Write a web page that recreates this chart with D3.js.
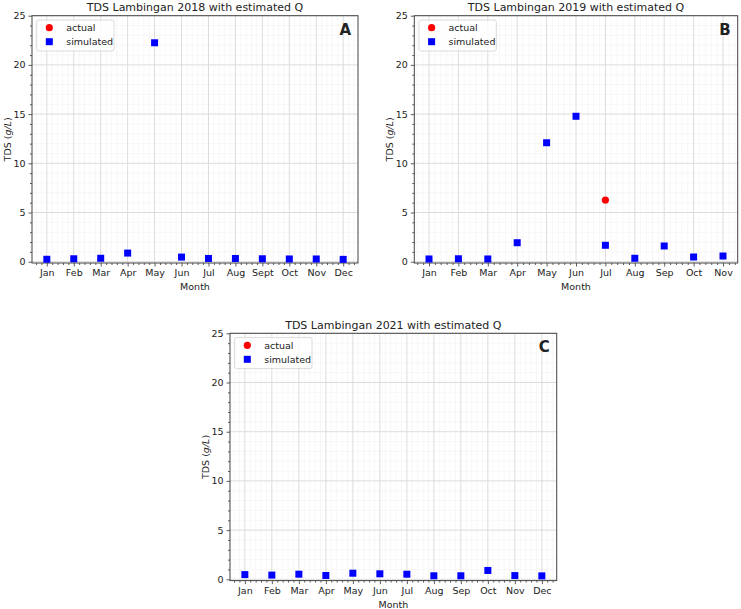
<!DOCTYPE html>
<html>
<head>
<meta charset="utf-8">
<script src="https://cdn.jsdelivr.net/npm/d3@7/dist/d3.min.js"></script>
<style>
  html, body { margin: 0; padding: 0; background: #fff; }
  svg { display: block; }
  text { font-family: "DejaVu Sans", sans-serif; fill: #222; }
</style>
</head>
<body>
<svg id="chart" width="741" height="609"></svg>
<script>
// ---- data ----
const months2018 = ["Jan","Feb","Mar","Apr","May","Jun","Jul","Aug","Sept","Oct","Nov","Dec"];
const sim2018 = [0.25, 0.3, 0.35, 0.88, 22.25, 0.47, 0.33, 0.33, 0.3, 0.28, 0.28, 0.24];
const act2018 = [null, null, null, null, null, null, null, null, null, null, null, null];

const months2019 = ["Jan","Feb","Mar","Apr","May","Jun","Jul","Aug","Sep","Oct","Nov"];
const sim2019 = [0.28, 0.3, 0.28, 1.93, 12.09, 14.78, 1.67, 0.35, 1.6, 0.48, 0.58];
const act2019 = [null, null, null, null, null, null, 6.27, null, null, null, null];

const months2021 = ["Jan","Feb","Mar","Apr","May","Jun","Jul","Aug","Sep","Oct","Nov","Dec"];
const sim2021 = [0.48, 0.43, 0.52, 0.39, 0.62, 0.56, 0.52, 0.36, 0.36, 0.9, 0.38, 0.35];
const act2021 = [null, null, null, null, null, null, null, null, null, null, null, null];

const yTicks = [0, 5, 10, 15, 20, 25];
const titles = ["TDS Lambingan 2018 with estimated Q", "TDS Lambingan 2019 with estimated Q", "TDS Lambingan 2021 with estimated Q"];
const letters = ["A", "B", "C"];
const legendLabels = ["actual", "simulated"];

// ---- layout ----
const panels = [
  {left: 32, right: 358, top: 15.7, bottom: 263, months: months2018, sim: sim2018, act: act2018},
  {left: 414.3, right: 737.7, top: 15.7, bottom: 263, months: months2019, sim: sim2019, act: act2019},
  {left: 230, right: 556.7, top: 333.3, bottom: 580.6, months: months2021, sim: sim2021, act: act2021}
];

const svg = d3.select("#chart");
const fs = "9.5px";

panels.forEach((p, i) => {
  const n = p.months.length;
  const margin = (n - 1) * 0.05;
  const x = d3.scaleLinear().domain([-margin, n - 1 + margin]).range([p.left, p.right]);
  const y = d3.scaleLinear().domain([-0.13, 25]).range([p.bottom, p.top]);
  const g = svg.append("g");

  const xMinorAll = d3.range(-2, (n - 1) * 5 + 3).map(k => k / 5).filter(v => Math.abs(v - Math.round(v)) > 1e-6 && v >= -margin && v <= n - 1 + margin);
  const yMinor = d3.range(0, 26).filter(v => v % 5 !== 0);

  // minor grid
  g.selectAll(".xminor").data(xMinorAll).join("line")
    .attr("x1", d => x(d)).attr("x2", d => x(d))
    .attr("y1", p.top).attr("y2", p.bottom)
    .attr("stroke", "#f2f2f2").attr("stroke-width", 0.6);
  g.selectAll(".yminor").data(yMinor).join("line")
    .attr("x1", p.left).attr("x2", p.right)
    .attr("y1", d => y(d)).attr("y2", d => y(d))
    .attr("stroke", "#f2f2f2").attr("stroke-width", 0.6);

  // major grid
  g.selectAll(".xmajor").data(d3.range(n)).join("line")
    .attr("x1", d => x(d)).attr("x2", d => x(d))
    .attr("y1", p.top).attr("y2", p.bottom)
    .attr("stroke", "#dcdcdc").attr("stroke-width", 1);
  g.selectAll(".ymajor").data(yTicks).join("line")
    .attr("x1", p.left).attr("x2", p.right)
    .attr("y1", d => y(d)).attr("y2", d => y(d))
    .attr("stroke", "#dcdcdc").attr("stroke-width", 1);

  // axes
  const xAxis = d3.axisBottom(x).tickValues(d3.range(n)).tickFormat(d => p.months[d]).tickSize(3.5).tickPadding(3);
  const xAxisMinor = d3.axisBottom(x).tickValues(xMinorAll).tickFormat("").tickSize(2);
  const yAxis = d3.axisLeft(y).tickValues(yTicks).tickSize(3.5).tickPadding(3);
  const yAxisMinor = d3.axisLeft(y).tickValues(yMinor).tickFormat("").tickSize(2);

  [xAxis, xAxisMinor].forEach(ax => {
    const a = g.append("g").attr("transform", `translate(0,${p.bottom})`).call(ax);
    a.select(".domain").remove();
    a.selectAll("line").attr("stroke", "#333").attr("stroke-width", 0.8);
    a.selectAll("text").style("font-size", fs).attr("fill", "#222");
  });
  [yAxis, yAxisMinor].forEach(ax => {
    const a = g.append("g").attr("transform", `translate(${p.left},0)`).call(ax);
    a.select(".domain").remove();
    a.selectAll("line").attr("stroke", "#333").attr("stroke-width", 0.8);
    a.selectAll("text").style("font-size", fs).attr("fill", "#222");
  });

  // frame
  g.append("rect").attr("x", p.left).attr("y", p.top)
    .attr("width", p.right - p.left).attr("height", p.bottom - p.top)
    .attr("fill", "none").attr("stroke", "#444").attr("stroke-width", 1);

  // points
  const simPts = p.sim.map((v, k) => ({k, v})).filter(d => d.v != null);
  const actPts = p.act.map((v, k) => ({k, v})).filter(d => d.v != null);
  const s = 7;
  g.selectAll(".sim").data(simPts).join("rect")
    .attr("x", d => x(d.k) - s / 2).attr("y", d => y(d.v) - s / 2)
    .attr("width", s).attr("height", s).attr("fill", "#0000ff");
  g.selectAll(".act").data(actPts).join("circle")
    .attr("cx", d => x(d.k)).attr("cy", d => y(d.v)).attr("r", 3.6)
    .attr("fill", "#ff0000");

  // title
  g.append("text").attr("x", (p.left + p.right) / 2).attr("y", p.top - 4.5)
    .attr("text-anchor", "middle").style("font-size", "11px").text(titles[i]);

  // letter
  g.append("text").attr("x", p.right - 7).attr("y", p.top + 19)
    .attr("text-anchor", "end").style("font-size", "15px").style("font-weight", "bold")
    .attr("fill", "#000").text(letters[i]);

  // x label
  g.append("text").attr("x", (p.left + p.right) / 2).attr("y", p.bottom + 27)
    .attr("text-anchor", "middle").style("font-size", fs).text("Month");

  // y label
  const yl = g.append("text")
    .attr("transform", `translate(${p.left - 21},${(p.top + p.bottom) / 2}) rotate(-90)`)
    .attr("text-anchor", "middle").style("font-size", fs);
  yl.append("tspan").text("TDS (");
  yl.append("tspan").style("font-style", "italic").text("g/L");
  yl.append("tspan").text(")");

  // legend
  const lx = p.left + 4.7, ly = p.top + 4.3;
  g.append("rect").attr("x", lx).attr("y", ly).attr("width", 77.3).attr("height", 31)
    .attr("rx", 2).attr("fill", "#fff").attr("fill-opacity", 0.8)
    .attr("stroke", "#d0d0d0").attr("stroke-width", 0.8);
  g.append("circle").attr("cx", lx + 12.6).attr("cy", ly + 7.7).attr("r", 3.6).attr("fill", "#ff0000");
  g.append("rect").attr("x", lx + 12.6 - s / 2).attr("y", ly + 21.7 - s / 2)
    .attr("width", s).attr("height", s).attr("fill", "#0000ff");
  legendLabels.forEach((t, k) => {
    g.append("text").attr("x", lx + 29.5).attr("y", ly + 7.7 + k * 14 + 3.4)
      .style("font-size", fs).text(t);
  });
});
</script>
</body>
</html>
